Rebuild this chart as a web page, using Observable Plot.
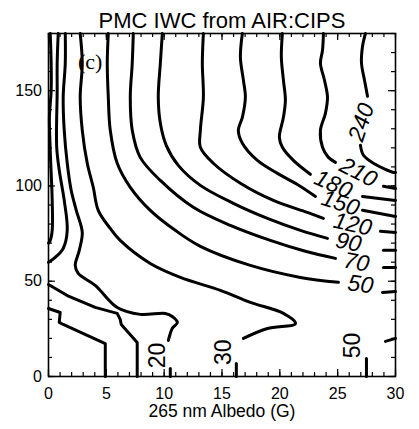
<!DOCTYPE html>
<html>
<head>
<meta charset="utf-8">
<script src="https://cdn.jsdelivr.net/npm/d3@7"></script>
<script src="https://cdn.jsdelivr.net/npm/@observablehq/plot@0.6"></script>
<style>
  body { margin: 0; background: #fff; }
</style>
</head>
<body>
<div id="chart"></div>
<script>
// Contour paths of PMC ice water content, in (albedo, y) data units.
// Each level is a list of visible runs; the gaps leave room for the labels.
const iwc240 = [
  [[27.40, 180], [27.15, 173.3], [27.06, 164.4], [27.32, 155.5], [27.58, 147.1]],
  [[26.97, 121.3], [27.23, 116.1], [28.09, 111.9], [29.83, 107.1], [30, 107.1]]
];
const iwc210 = [
  [[23.77, 180], [23.69, 171.2], [23.51, 164.4], [23.86, 155.5], [24.12, 146.5], [23.94, 138.1],
   [23.51, 129.2], [23.69, 120.3], [24.20, 115.0], [24.81, 112.4]],
  [[28.96, 99.8], [30, 98.7]]
];
const iwc180 = [
  [[20.22, 180], [20.13, 167.5], [20.31, 155.5], [20.48, 145.0], [20.31, 136.0], [19.96, 125.5],
   [20.22, 120.3], [21.17, 113.4], [22.64, 106.1]],
  [[27.15, 94.5], [30, 92.4]]
];
const iwc150 = [
  [[16.76, 180], [16.59, 167.5], [16.85, 155.5], [17.02, 146.5], [16.76, 136.0], [16.41, 129.2],
   [16.76, 122.4], [18.06, 113.4], [19.79, 106.6], [21.52, 100.8], [23.08, 94.5]],
  [[27.15, 87.2], [30, 84.0]]
];
const iwc120 = [
  [[13.39, 180], [13.30, 164.4], [13.39, 146.5], [13.13, 129.2], [13.13, 120.3], [14.25, 111.9],
   [16.59, 101.4], [19.44, 92.4], [22.38, 86.1], [23.77, 83.0]],
  [[28.70, 76.2], [30, 75.6]]
];
const iwc90 = [
  [[9.84, 180], [9.67, 164.4], [9.49, 146.5], [9.67, 132.9], [10.18, 121.3], [11.22, 110.8],
   [13.13, 100.3], [15.98, 90.9], [18.93, 83.0], [21.78, 76.7], [24.12, 72.5]],
  [[28.96, 66.2], [30, 66.2]]
];
const iwc70 = [
  [[7.33, 180], [7.24, 164.4], [7.07, 146.5], [7.24, 129.2], [7.93, 115.0], [9.67, 102.9],
   [12.52, 88.8], [15.72, 79.3], [19.18, 71.4], [22.21, 65.7], [24.81, 62.0]],
  [[28.96, 57.2], [30, 57.2]]
];
const iwc50 = [
  [[5.17, 180], [5.08, 164.4], [5.17, 146.5], [5.34, 129.2], [5.94, 111.9], [7.07, 99.3],
   [8.80, 87.2], [10.96, 76.7], [13.13, 68.3], [17.45, 58.3], [21.78, 52.0], [25.07, 49.4]],
  [[28.87, 44.1], [30, 44.6]],
  [[30, 20.0], [29.13, 18.4]],
  [[27.49, 9.5], [27.49, 0]]
];
const iwc30 = [
  [[2.74, 180], [2.92, 164.4], [2.74, 146.5], [2.92, 129.2], [3.35, 111.9], [3.87, 99.3],
   [4.30, 87.2], [5.34, 77.7], [6.20, 71.4], [8.80, 59.3], [11.40, 52.0], [14.86, 45.2],
   [17.45, 38.9], [20.31, 33.1], [21.35, 27.8], [18.93, 25.2], [16.85, 20.0]],
  [[16.24, 6.8], [16.24, 0]]
];
const iwc20 = [
  [[1.45, 180], [1.45, 164.4], [1.27, 146.5], [1.36, 129.2], [1.62, 111.9], [1.96, 97.7],
   [2.40, 87.2], [2.92, 75.6], [2.66, 66.2], [2.31, 58.3], [2.57, 54.1], [4.04, 47.8],
   [5.94, 36.2], [7.93, 32.6], [10.10, 33.1], [10.70, 31.5], [11.14, 28.4], [10.70, 25.2],
   [10.53, 22.6], [10.36, 18.9]],
  [[10.53, 4.2], [10.53, 0]]
];
const iwc10 = [
  [[0, 48.3], [1.62, 42.5], [4.04, 36.3], [5.94, 33.1], [6.20, 30.0], [6.29, 27.3],
   [6.90, 23.1], [7.67, 17.9], [7.67, 0]]
];
const iwc5 = [
  [[0, 35.7], [1.01, 33.6], [0.93, 28.4], [1.27, 27.3], [4.91, 17.3], [4.91, 0]]
];
const iwcEdgeOuter = [
  [[0.84, 180], [0.75, 164.4], [0.75, 150.2], [0.71, 120.3], [0.93, 108.2], [1.36, 92.4],
   [1.62, 76.7], [1.27, 67.2], [0.58, 62.5], [0, 59.9]]
];
const iwcEdgeInner = [
  [[0.15, 180], [0.23, 164.4], [0.23, 150.2], [0.08, 136], [0.15, 118.7], [0.32, 92.4],
   [0.32, 76.7], [0.15, 71.4], [0, 70]]
];

// Contour labels: level and where it sits along its line
const contourLabels = [
  {level: "240", x: 27.06, y: 133.4},
  {level: "210", x: 26.8, y: 107.1},
  {level: "180", x: 24.63, y: 100.8},
  {level: "150", x: 25.24, y: 90.9},
  {level: "120", x: 26.3, y: 79.8},
  {level: "90", x: 25.94, y: 70.4},
  {level: "70", x: 26.63, y: 59.9},
  {level: "50", x: 26.97, y: 48.3}
];
const bottomLabels = [
  {level: "20", x: 9.41, y: 11.0},
  {level: "30", x: 15.1, y: 12.7},
  {level: "50", x: 26.3, y: 16.3}
];

// Axis ticks
const xTicks = [0, 5, 10, 15, 20, 25, 30];
const yTicks = [0, 50, 100, 150];
const xMinor = d3.range(0, 31, 1);
const yMinor = d3.range(0, 181, 10);
const xDomain = [0, 30];
const yDomain = [0, 180];

const title = "PMC IWC from AIR:CIPS";
const xTitle = "265 nm Albedo (G)";
const panelTag = "(c)";

// flatten every run into rows for Plot.line
const smoothLevels = [iwc240, iwc210, iwc180, iwc150, iwc120, iwc90, iwc70, iwc50, iwc30, iwc20,
                      iwcEdgeOuter, iwcEdgeInner];
const angularLevels = [iwc10, iwc5];
const toRows = (levels, tag) => levels.flatMap((runs, i) =>
  runs.flatMap((pts, k) => pts.map(([x, y]) => ({run: `${tag}${i}-${k}`, x, y}))));

const labelAngle = {"240": -72, "210": 27, "180": 24, "150": 18, "120": 13, "90": 12, "70": 11, "50": 8};

const font = "'Liberation Sans', Arial, Helvetica, sans-serif";
const tickStyle = {stroke: "black", strokeWidth: 1.2};

// inward ticks: zero-length rules on an edge, stretched inward by a negative inset
const ticksBottom = (v, len) => Plot.ruleX(v, {x: d => d, y1: yDomain[0], y2: yDomain[0], insetTop: 0, insetBottom: len, ...tickStyle});
const ticksTop = (v, len) => Plot.ruleX(v, {x: d => d, y1: yDomain[1], y2: yDomain[1], insetTop: 0, insetBottom: -len, ...tickStyle});
const ticksLeft = (v, len) => Plot.ruleY(v, {y: d => d, x1: xDomain[0], x2: xDomain[0], insetLeft: 0, insetRight: -len, ...tickStyle});
const ticksRight = (v, len) => Plot.ruleY(v, {y: d => d, x1: xDomain[1], x2: xDomain[1], insetLeft: 0, insetRight: len, ...tickStyle});

const chart = Plot.plot({
  width: 419,
  height: 429,
  marginLeft: 48,
  marginRight: 24,
  marginTop: 33,
  marginBottom: 53,
  style: {fontFamily: font, color: "black", background: "white"},
  x: {domain: xDomain, axis: null},
  y: {domain: yDomain, axis: null},
  marks: [
    Plot.line(toRows(smoothLevels, "s"), {x: "x", y: "y", z: "run", stroke: "black", strokeWidth: 3,
      curve: "catmull-rom", strokeLinejoin: "round"}),
    Plot.line(toRows(angularLevels, "a"), {x: "x", y: "y", z: "run", stroke: "black", strokeWidth: 3,
      curve: "linear", strokeLinejoin: "round"}),
    Plot.text(contourLabels, {x: "x", y: "y", text: "level", rotate: d => labelAngle[d.level],
      fontSize: 23, fontStyle: "italic", fontFamily: font, fill: "black"}),
    Plot.text(bottomLabels, {x: "x", y: "y", text: "level", rotate: -90,
      fontSize: 23, fontFamily: font, fill: "black"}),
    Plot.text([panelTag], {x: 2.55, y: 164.9, text: d => d, textAnchor: "start",
      fontSize: 22, fontFamily: "'Liberation Serif', 'Times New Roman', serif"}),
    ticksBottom(xMinor, 4), ticksBottom(xTicks, 7),
    ticksTop(xMinor, 4), ticksTop(xTicks, 7),
    ticksLeft(yMinor, 4), ticksLeft(yTicks, 7),
    ticksRight(yMinor, 4), ticksRight(yTicks, 7),
    // tick labels
    Plot.text(xTicks, {x: d => d, frameAnchor: "bottom", dy: 17.5, lineAnchor: "middle",
      text: d => String(d), fontSize: 16, fontFamily: font}),
    Plot.text(yTicks, {y: d => d, frameAnchor: "left", dx: -6.5, textAnchor: "end", lineAnchor: "middle",
      text: d => String(d), fontSize: 16, fontFamily: font}),
    Plot.frame({stroke: "black", strokeWidth: 1.6}),
    Plot.text([title], {frameAnchor: "top", dy: -13, lineAnchor: "middle", text: d => d,
      fontSize: 22, fontFamily: font}),
    Plot.text([xTitle], {frameAnchor: "bottom", dy: 35, lineAnchor: "middle", text: d => d,
      fontSize: 17.5, fontFamily: font})
  ]
});

document.getElementById("chart").appendChild(chart);
</script>
</body>
</html>
